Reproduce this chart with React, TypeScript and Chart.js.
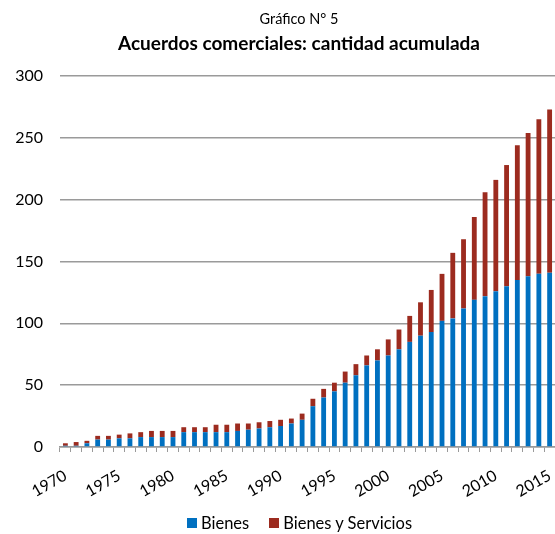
import React, { useEffect, useRef } from "react";
import { Chart, registerables } from "chart.js";

Chart.register(...registerables);

const chartLabel = "Gráfico N° 5";
const chartTitle = "Acuerdos comerciales: cantidad acumulada";

const years: string[] = [
  "1970","1971","1972","1973","1974","1975","1976","1977","1978","1979",
  "1980","1981","1982","1983","1984","1985","1986","1987","1988","1989",
  "1990","1991","1992","1993","1994","1995","1996","1997","1998","1999",
  "2000","2001","2002","2003","2004","2005","2006","2007","2008","2009",
  "2010","2011","2012","2013","2014","2015",
];

const bienes: number[] = [
  1, 1, 3, 6, 6, 7, 7, 8, 8, 8,
  8, 12, 12, 12, 12, 12, 13, 14, 15, 16,
  17, 19, 22, 33, 40, 45, 52, 58, 66, 70,
  74, 79, 85, 90, 93, 102, 104, 112, 119, 122,
  126, 130, 135, 138, 140, 141,
];

const bienesYServicios: number[] = [
  2, 3, 2, 3, 3, 3, 4, 4, 5, 5,
  5, 4, 4, 4, 6, 6, 6, 5, 5, 5,
  5, 4, 5, 6, 7, 7, 9, 9, 8, 9,
  13, 16, 21, 27, 34, 38, 53, 56, 67, 84,
  90, 98, 109, 116, 125, 132,
];

const yTicks: number[] = [0, 50, 100, 150, 200, 250, 300];

const seriesNames: string[] = ["Bienes", "Bienes y Servicios"];
const seriesColors: string[] = ["#0070C0", "#9C2B1F"];

const FONT = "Lato, 'Open Sans', sans-serif";

export default function App() {
  const ref = useRef<HTMLCanvasElement | null>(null);

  useEffect(() => {
    document.body.style.margin = "0";
    const canvas = ref.current;
    if (!canvas) return;
    const chart = new Chart(canvas, {
      type: "bar",
      data: {
        labels: years,
        datasets: [
          {
            label: seriesNames[0],
            data: bienes,
            backgroundColor: seriesColors[0],
            borderWidth: 0,
            categoryPercentage: 1,
            barPercentage: 0.45,
          },
          {
            label: seriesNames[1],
            data: bienesYServicios,
            backgroundColor: seriesColors[1],
            borderWidth: 0,
            categoryPercentage: 1,
            barPercentage: 0.45,
          },
        ],
      },
      options: {
        responsive: false,
        animation: false,
        layout: { padding: { left: 0, right: 0, top: 76, bottom: 36.5 } },
        plugins: {
          title: { display: false },
          legend: { display: false },
          tooltip: { enabled: false },
        },
        scales: {
          x: {
            stacked: true,
            afterFit: (axis: any) => {
              axis.height = 50.5;
              axis.paddingLeft = 0;
              axis.paddingRight = 0;
            },
            grid: {
              display: true,
              offset: true,
              drawOnChartArea: false,
              drawTicks: true,
              tickLength: 5,
              color: "#9a9a9a",
            },
            border: { display: true, color: "#9a9a9a", width: 1.5 },
            ticks: {
              autoSkip: false,
              maxRotation: 30,
              minRotation: 30,
              color: "#000",
              font: { family: FONT, size: 16 },
              padding: 14,
              callback: (_v: any, i: number) =>
                Number(years[i]) % 5 === 0 ? years[i] : "",
            },
          },
          y: {
            stacked: true,
            min: 0,
            max: 300,
            afterFit: (axis: any) => {
              axis.width = 60;
            },
            afterBuildTicks: (axis: any) => {
              axis.ticks = yTicks.map((v) => ({ value: v }));
            },
            grid: {
              color: "#9a9a9a",
              lineWidth: 1.5,
              drawTicks: false,
            },
            border: { display: false },
            ticks: {
              color: "#000",
              font: { family: FONT, size: 16 },
              padding: 17,
            },
          },
        },
      },
    });
    return () => chart.destroy();
  }, []);

  const textBase: React.CSSProperties = {
    position: "absolute",
    left: 0,
    width: 598,
    textAlign: "center",
    fontFamily: FONT,
    color: "#000",
    whiteSpace: "nowrap",
  };

  return (
    <div style={{ width: 555, height: 534, position: "relative", overflow: "hidden" }}>
      <canvas ref={ref} width={555} height={534} style={{ width: 555, height: 534, display: "block" }} />
      <div style={{ ...textBase, top: 9, fontSize: 14.5, lineHeight: "20px" }}>{chartLabel}</div>
      <div style={{ ...textBase, top: 32, fontSize: 19, lineHeight: "22px", fontWeight: "bold" }}>{chartTitle}</div>
      <div
        style={{
          position: "absolute",
          left: 187,
          top: 512,
          height: 22,
          display: "flex",
          alignItems: "center",
          fontFamily: FONT,
          fontSize: 16.5,
          color: "#000",
          whiteSpace: "nowrap",
        }}
      >
        {seriesNames.map((name, i) => (
          <span
            key={name}
            style={{ display: "flex", alignItems: "center", marginRight: i === 0 ? 20 : 0 }}
          >
            <span
              style={{
                display: "inline-block",
                width: 10,
                height: 10,
                background: seriesColors[i],
                marginRight: 4,
              }}
            />
            {name}
          </span>
        ))}
      </div>
    </div>
  );
}
